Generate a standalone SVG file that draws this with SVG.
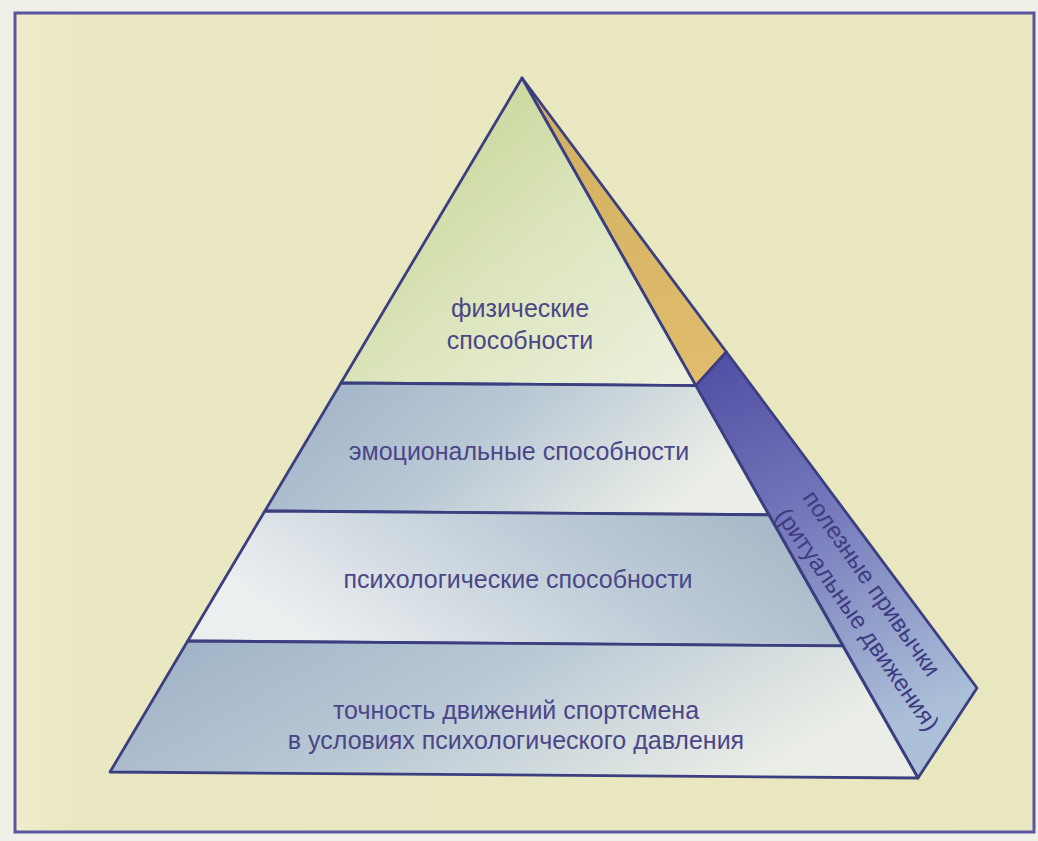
<svg xmlns="http://www.w3.org/2000/svg" width="1038" height="841" viewBox="0 0 1038 841">
  <style>
    .edge { stroke: #3b3f80; stroke-width: 2.8; stroke-linejoin: round; }
    .label { font-family: "Liberation Sans", Arial, sans-serif; font-size: 25px; fill: #4b4688; text-anchor: middle; }
    .side { font-size: 24px; fill: #3f3b82; }
  </style>
  <defs>
    <linearGradient id="gTop" x1="0" y1="0" x2="1" y2="1">
      <stop offset="0" stop-color="#bfd088"/>
      <stop offset="0.55" stop-color="#dce5bd"/>
      <stop offset="1" stop-color="#eef1df"/>
    </linearGradient>
    <linearGradient id="gDarkLeft" x1="0" y1="0" x2="1" y2="0.3">
      <stop offset="0" stop-color="#9cb0c5"/>
      <stop offset="0.5" stop-color="#b9c8d5"/>
      <stop offset="1" stop-color="#eaeee6"/>
    </linearGradient>
    <linearGradient id="gDarkRight" x1="0" y1="0.3" x2="1" y2="0">
      <stop offset="0" stop-color="#eceff0"/>
      <stop offset="0.45" stop-color="#c4d0da"/>
      <stop offset="1" stop-color="#9fb2c4"/>
    </linearGradient>
    <linearGradient id="gSide" x1="0" y1="0" x2="0.3" y2="1">
      <stop offset="0" stop-color="#4f4ca3"/>
      <stop offset="0.45" stop-color="#7477ba"/>
      <stop offset="1" stop-color="#abbfd8"/>
    </linearGradient>
    <linearGradient id="gTan" x1="0" y1="0" x2="0" y2="1">
      <stop offset="0" stop-color="#d0b060"/>
      <stop offset="1" stop-color="#e0bd6c"/>
    </linearGradient>
    <linearGradient id="gBg" x1="0" y1="0" x2="1" y2="0">
      <stop offset="0" stop-color="#eeeccb"/>
      <stop offset="0.06" stop-color="#eae8c2"/>
      <stop offset="1" stop-color="#e9e7bf"/>
    </linearGradient>
  </defs>

  <!-- page and framed panel -->
  <rect x="0" y="0" width="1038" height="841" fill="#eff0e8"/>
  <rect x="15" y="13" width="1019" height="819" fill="url(#gBg)" stroke="#5a55a2" stroke-width="3"/>

  <!-- side face: habits strip -->
  <g id="side-habits">
    <polygon points="522,78 726.4,352 695.8,385.6" fill="url(#gTan)" class="edge"/>
    <polygon points="695.8,385.6 726.4,352 977,688 918,778" fill="url(#gSide)" class="edge"/>
    <text class="label side" transform="translate(865,588) rotate(55)">полезные привычки</text>
    <text class="label side" transform="translate(851,624) rotate(55)">(ритуальные движения)</text>
  </g>

  <!-- front face, from top to base -->
  <g id="tier-physical">
    <polygon points="522,78 695.8,385.6 340.9,383" fill="url(#gTop)" class="edge"/>
    <text class="label" x="520" y="317">физические</text>
    <text class="label" x="520" y="349">способности</text>
  </g>

  <g id="tier-emotional">
    <polygon points="340.9,383 695.8,385.6 768.8,514.8 264.9,511" fill="url(#gDarkLeft)" class="edge"/>
    <text class="label" x="519" y="460">эмоциональные способности</text>
  </g>

  <g id="tier-psychological">
    <polygon points="264.9,511 768.8,514.8 842.8,645.9 187.7,641" fill="url(#gDarkRight)" class="edge"/>
    <text class="label" x="518" y="588">психологические способности</text>
  </g>

  <g id="tier-precision">
    <polygon points="187.7,641 842.8,645.9 918,778 110,772" fill="url(#gDarkLeft)" class="edge"/>
    <text class="label" x="516" y="719">точность движений спортсмена</text>
    <text class="label" x="516" y="749">в условиях психологического давления</text>
  </g>
</svg>
